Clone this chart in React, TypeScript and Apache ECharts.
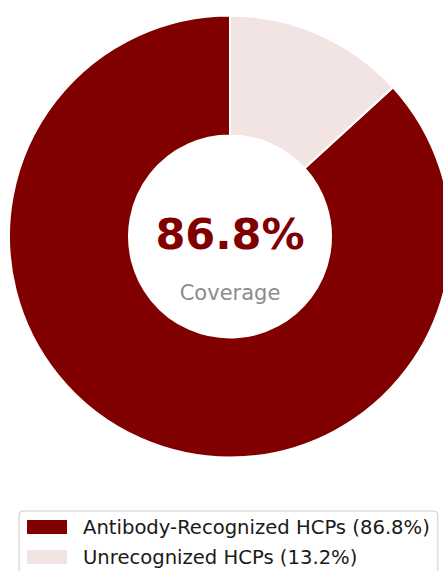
import React, { useEffect, useRef } from "react";
import * as echarts from "echarts";

const categories = ["Antibody-Recognized HCPs", "Unrecognized HCPs"];
const values = [86.8, 13.2];
const colors = ["#800000", "#f3e4e4"];
const centerValue = "86.8%";
const centerCaption = "Coverage";

export default function App() {
  const ref = useRef<HTMLDivElement>(null);
  useEffect(() => {
    if (!ref.current) return;
    const chart = echarts.init(ref.current, null, { renderer: "svg" });
    const font = "DejaVu Sans";
    chart.setOption({
      animation: false,
      backgroundColor: "#ffffff",
      textStyle: { fontFamily: font },
      legend: {
        orient: "vertical",
        left: 19,
        top: 511,
        height: 80,
        width: 430,
        data: categories,
        icon: "rect",
        itemWidth: 42,
        itemHeight: 16,
        itemGap: 10,
        padding: [6, 8, 6, 6],
        borderColor: "#cccccc",
        borderWidth: 1,
        borderRadius: 4,
        backgroundColor: "#ffffff",
        formatter: (name: string) => {
          const i = categories.indexOf(name);
          return `${name} (${values[i].toFixed(1)}%)`;
        },
        textStyle: {
          fontFamily: font,
          fontSize: 19.6,
          lineHeight: 20,
          color: "#1a1a1a",
          padding: [0, 0, 0, 10],
        },
      },
      graphic: [
        {
          type: "text",
          style: {
            text: centerValue,
            x: 230,
            y: 234,
            align: "center",
            verticalAlign: "middle",
            fontFamily: font,
            fontSize: 43,
            fontWeight: "bold",
            fill: "#800000",
          },
        },
        {
          type: "text",
          style: {
            text: centerCaption,
            x: 230,
            y: 293,
            align: "center",
            verticalAlign: "middle",
            fontFamily: font,
            fontSize: 21,
            fill: "#8c8c8c",
          },
        },
      ],
      series: [
        {
          type: "pie",
          center: [230, 236.5],
          radius: [101, 221],
          startAngle: 90,
          clockwise: false,
          label: { show: false },
          labelLine: { show: false },
          emphasis: { disabled: true },
          itemStyle: { borderColor: "#ffffff", borderWidth: 2 },
          data: categories.map((c, i) => ({
            name: c,
            value: values[i],
            itemStyle: { color: colors[i] },
          })),
        },
      ],
    });
    return () => chart.dispose();
  }, []);
  return (
    <div
      ref={ref}
      style={{ position: "absolute", left: 0, top: 0, width: 443, height: 571 }}
    />
  );
}
